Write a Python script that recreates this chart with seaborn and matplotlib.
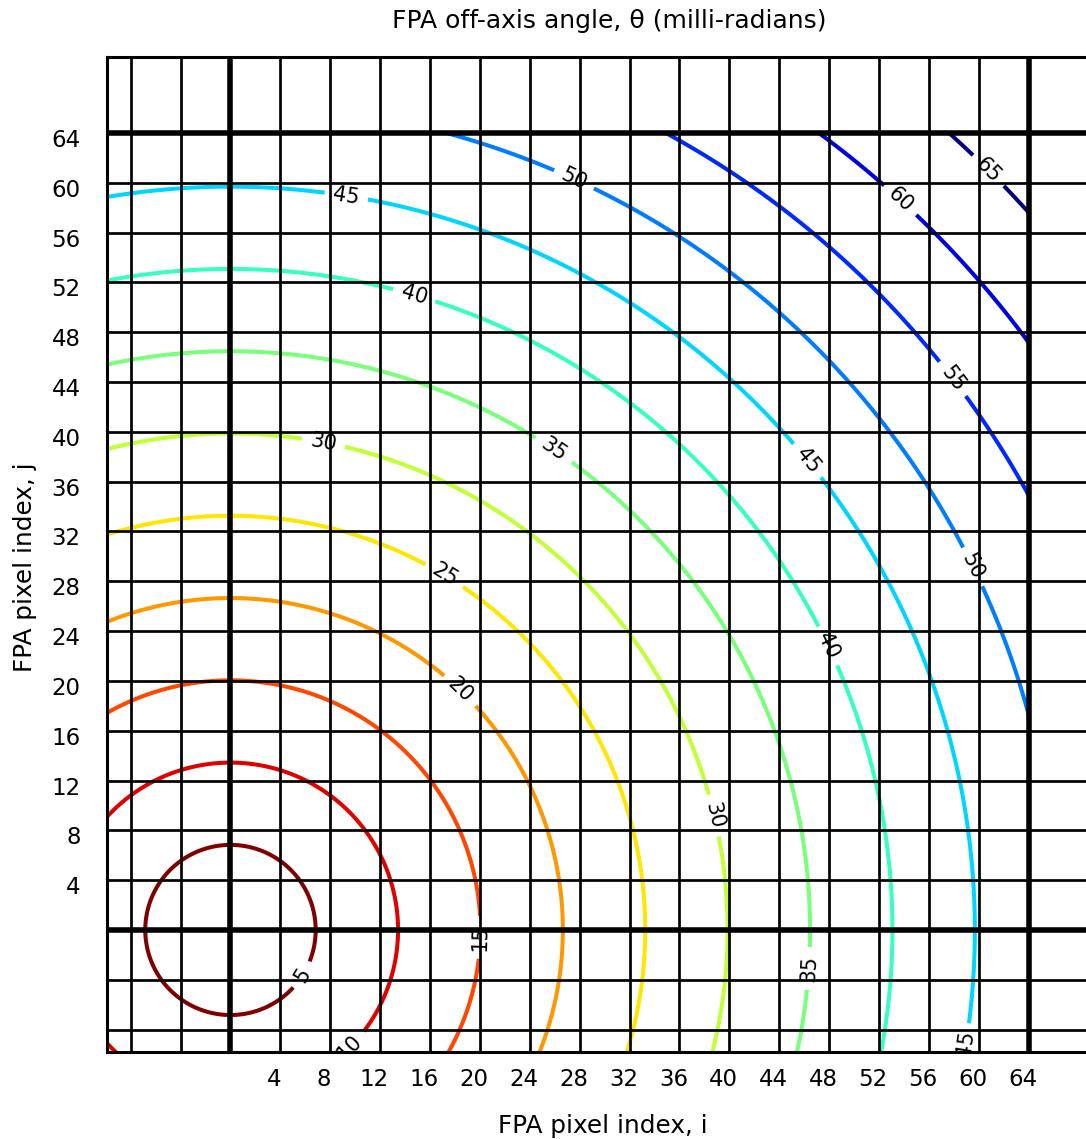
import numpy as np
import matplotlib
matplotlib.use("Agg")
import matplotlib.pyplot as plt
import matplotlib.transforms as mtransforms
import seaborn as sns

# ---- data ----
# contour levels of the off-axis angle (milli-radians)
levels = [5, 10, 15, 20, 25, 30, 35, 40, 45, 50, 55, 60, 65]
# radius (in pixel-index units, from i=0, j=0) at which each contour is drawn
level_radius = [7.0, 13.55, 20.0, 26.6, 33.2, 39.8, 46.4, 52.9, 59.6, 66.3, 73.0, 79.6, 86.2]
# pixel-index range over which the angle map is defined
i_range = [-10, 64]
j_range = [-10, 64]
# labelled tick values on both axes
tick_values = [4, 8, 12, 16, 20, 24, 28, 32, 36, 40, 44, 48, 52, 56, 60, 64]
# all grid-line positions
grid_values = [-8, -4, 0, 4, 8, 12, 16, 20, 24, 28, 32, 36, 40, 44, 48, 52, 56, 60, 64]
# pixel-array boundary lines (drawn heavy)
array_edges = [0, 64]

# ---- layout (label anchor positions for the contour labels) ----
label_anchor = [
    (5.9, -3.7), (9.5, -9.4), (20.1, -0.6), (18.5, 19.3), (17.3, 28.7),
    (7.5, 39.4), (38.8, 9.2), (26.1, 38.8), (46.4, -3.1), (14.8, 51.2),
    (48.1, 22.9), (9.3, 59.0), (46.4, 37.8), (59.0, -9.2), (27.7, 60.6),
    (59.6, 29.2), (58.1, 44.4), (53.8, 58.7), (60.9, 61.1),
]

sns.set_theme(style="white")
plt.rcParams['font.family'] = ['DejaVu Sans']

W, H = 1086, 1139
fig = plt.figure(figsize=(W / 100, H / 100), dpi=100)
ax = fig.add_axes([107 / W, (H - 1052) / H, (W - 107) / W, (1052 - 57) / H])

# angle field built from the measured contour radii
gi = np.linspace(i_range[0], i_range[1], 600)
gj = np.linspace(j_range[0], j_range[1], 600)
I, J = np.meshgrid(gi, gj)
R = np.hypot(I, J)
slope, intercept = np.polyfit(level_radius, levels, 1)
theta = slope * R + intercept

cmap = sns.color_palette("jet_r", as_cmap=True)
cs = ax.contour(I, J, theta, levels=levels, cmap=cmap, vmin=levels[0], vmax=levels[-1],
                linewidths=2.9, zorder=2)
ax.clabel(cs, inline=True, fontsize=15, colors='black', manual=label_anchor,
          inline_spacing=10, fmt='%d')

ax.set_xlim(-9.9, 68.6)
ax.set_ylim(-9.8, 70.1)
ax.set_xticks(grid_values)
ax.set_yticks(grid_values)
ax.set_xticklabels([str(v) if v in tick_values else '' for v in grid_values])
ax.set_yticklabels([str(v) if v in tick_values else '' for v in grid_values])
ax.set_axisbelow(False)
ax.grid(True, color='black', linewidth=1.95)
for e in array_edges:
    ax.axvline(e, color='black', linewidth=4.0, zorder=3)
    ax.axhline(e, color='black', linewidth=4.0, zorder=3)

ax.tick_params(axis='both', length=0, labelsize=16.5, colors='black')
ax.tick_params(axis='x', pad=11.5)
ax.tick_params(axis='y', pad=19)
for lab in ax.get_xticklabels():
    lab.set_transform(lab.get_transform() + mtransforms.ScaledTranslation(-6 / 100, 0, fig.dpi_scale_trans))
for lab in ax.get_yticklabels():
    lab.set_transform(lab.get_transform() + mtransforms.ScaledTranslation(0, -5 / 100, fig.dpi_scale_trans))

for s in ['left', 'bottom', 'top']:
    ax.spines[s].set_visible(True)
    ax.spines[s].set_color('black')
    ax.spines[s].set_linewidth(2.2)
ax.spines['right'].set_visible(False)

fig.text(609 / W, 1 - 21 / H, "FPA off-axis angle, θ (milli-radians)",
         ha='center', va='center', fontsize=18, color='black')
fig.text(603 / W, 1 - 1126 / H, "FPA pixel index, i",
         ha='center', va='center', fontsize=17.8, color='black')
fig.text(25 / W, 1 - 567 / H, "FPA pixel index, j", rotation=90,
         ha='center', va='center', fontsize=17.8, color='black')

fig.savefig("out.png", dpi=100)
